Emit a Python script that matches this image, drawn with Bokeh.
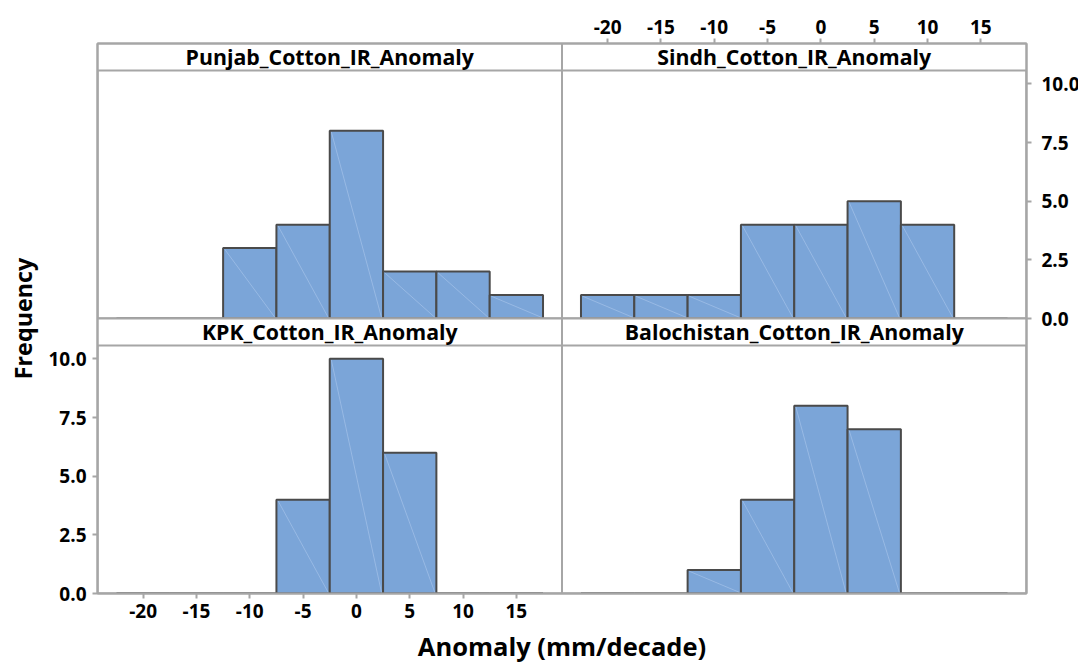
from bokeh.plotting import figure
from bokeh.models import Range1d, LinearAxis, FixedTicker, ColumnDataSource
from bokeh.embed import file_html
from bokeh.resources import INLINE
from bokeh.core.properties import value

# ---- data ----
bin_centers = [-20, -15, -10, -5, 0, 5, 10, 15]
bin_width = 5
punjab = [0, 0, 3, 4, 8, 2, 2, 1]
sindh = [1, 1, 1, 4, 4, 5, 4, 0]
kpk = [0, 0, 0, 4, 10, 6, 0, 0]
balochistan = [0, 0, 1, 4, 8, 7, 0, 0]
panel_titles = ["Punjab_Cotton_IR_Anomaly", "Sindh_Cotton_IR_Anomaly",
                "KPK_Cotton_IR_Anomaly", "Balochistan_Cotton_IR_Anomaly"]
x_ticks = [-20, -15, -10, -5, 0, 5, 10, 15]
x_tick_labels = ["-20", "-15", "-10", "-5", "0", "5", "10", "15"]
y_ticks = [0, 2.5, 5, 7.5, 10]
y_tick_labels = ["0.0", "2.5", "5.0", "7.5", "10.0"]
x_title = "Anomaly (mm/decade)"
y_title = "Frequency"

# ---- panel geometry (data units) ----
XMIN, XMAX = -24.28, 19.28
PW = XMAX - XMIN
YTOP = 10.57
HDR = 1.15
PH = YTOP + HDR

FONT = "Open Sans"
GRAY = "#a6a6a6"
BAR = "#7ba5d8"
EDGE = "#4a4a4a"

p = figure(frame_width=929, frame_height=550,
           min_border_left=97, min_border_right=50,
           min_border_top=43, min_border_bottom=69,
           x_range=Range1d(XMIN, XMIN + 2 * PW),
           y_range=Range1d(0, 2 * PH),
           x_axis_location=None, y_axis_location=None,
           toolbar_location=None, output_backend="svg",
           background_fill_color="white", border_fill_color="white",
           outline_line_color=GRAY, outline_line_width=2)
p.extra_x_ranges = {"R": Range1d(XMIN - PW, XMAX)}
p.extra_y_ranges = {"T": Range1d(-PH, PH)}
p.grid.visible = False

panels = [(punjab, "default", "T"), (sindh, "R", "T"),
          (kpk, "default", "default"), (balochistan, "R", "default")]

for (counts, xr, yr), title in zip(panels, panel_titles):
    # panel border
    p.quad(left=[XMIN], right=[XMAX], bottom=[0], top=[PH], fill_color=None,
           line_color=GRAY, line_width=2, x_range_name=xr, y_range_name=yr)
    # header strip
    p.quad(left=[XMIN], right=[XMAX], bottom=[YTOP], top=[PH], fill_color="white",
           line_color=GRAY, line_width=2, x_range_name=xr, y_range_name=yr)
    p.text(x=[(XMIN + XMAX) / 2], y=[(YTOP + PH) / 2], text=[title],
           text_font=value(FONT), text_font_style="bold", text_font_size="21.3px",
           text_align="center", text_baseline="middle", text_color="black",
           x_range_name=xr, y_range_name=yr)
    left = [c - bin_width / 2 for c in bin_centers]
    right = [c + bin_width / 2 for c in bin_centers]
    src = ColumnDataSource(dict(left=left, right=right, top=counts,
                                bottom=[0] * len(counts)))
    p.quad(left="left", right="right", bottom="bottom", top="top", source=src,
           fill_color=BAR, line_color=EDGE, line_width=2,
           x_range_name=xr, y_range_name=yr)
    nz = [i for i, c in enumerate(counts) if c > 0]
    p.segment(x0=[left[i] + 0.15 for i in nz], y0=[counts[i] - 0.05 for i in nz],
              x1=[right[i] - 0.15 for i in nz], y1=[0.05 for i in nz],
              line_color="#a8c5ea", line_width=0.8, line_alpha=0.8,
              x_range_name=xr, y_range_name=yr)

xlab = {t: s for t, s in zip(x_ticks, x_tick_labels)}
ylab = {t: s for t, s in zip(y_ticks, y_tick_labels)}


def style(ax):
    ax.axis_line_color = GRAY
    ax.axis_line_width = 2
    ax.major_tick_line_color = GRAY
    ax.major_tick_line_width = 2
    ax.major_tick_in = 0
    ax.major_tick_out = 5
    ax.minor_tick_line_color = None
    ax.major_label_text_font = FONT
    ax.major_label_text_font_style = "bold"
    ax.major_label_text_font_size = "19px"
    ax.major_label_text_color = "black"
    ax.axis_label_text_font = FONT
    ax.axis_label_text_font_style = "bold"
    ax.axis_label_text_font_size = "24px"
    ax.axis_label_text_color = "black"


bottom = LinearAxis(x_range_name="default", ticker=FixedTicker(ticks=x_ticks),
                    major_label_overrides=xlab, axis_label=x_title)
top = LinearAxis(x_range_name="R", ticker=FixedTicker(ticks=x_ticks),
                 major_label_overrides=xlab)
left_ax = LinearAxis(y_range_name="default", ticker=FixedTicker(ticks=y_ticks),
                     major_label_overrides=ylab, axis_label=y_title)
right_ax = LinearAxis(y_range_name="T", ticker=FixedTicker(ticks=y_ticks),
                      major_label_overrides=ylab)
for ax in (bottom, top, left_ax, right_ax):
    style(ax)
bottom.axis_label_text_font_size = "25.5px"
left_ax.axis_label_text_font_size = "23.3px"
bottom.major_label_standoff = 5
bottom.axis_label_standoff = 8
top.major_label_standoff = 5
left_ax.major_label_standoff = 6
left_ax.axis_label_standoff = 6
right_ax.major_label_standoff = 10

p.add_layout(bottom, "below")
p.add_layout(top, "above")
p.add_layout(left_ax, "left")
p.add_layout(right_ax, "right")

open("out.html", "w").write(file_html(p, INLINE))
